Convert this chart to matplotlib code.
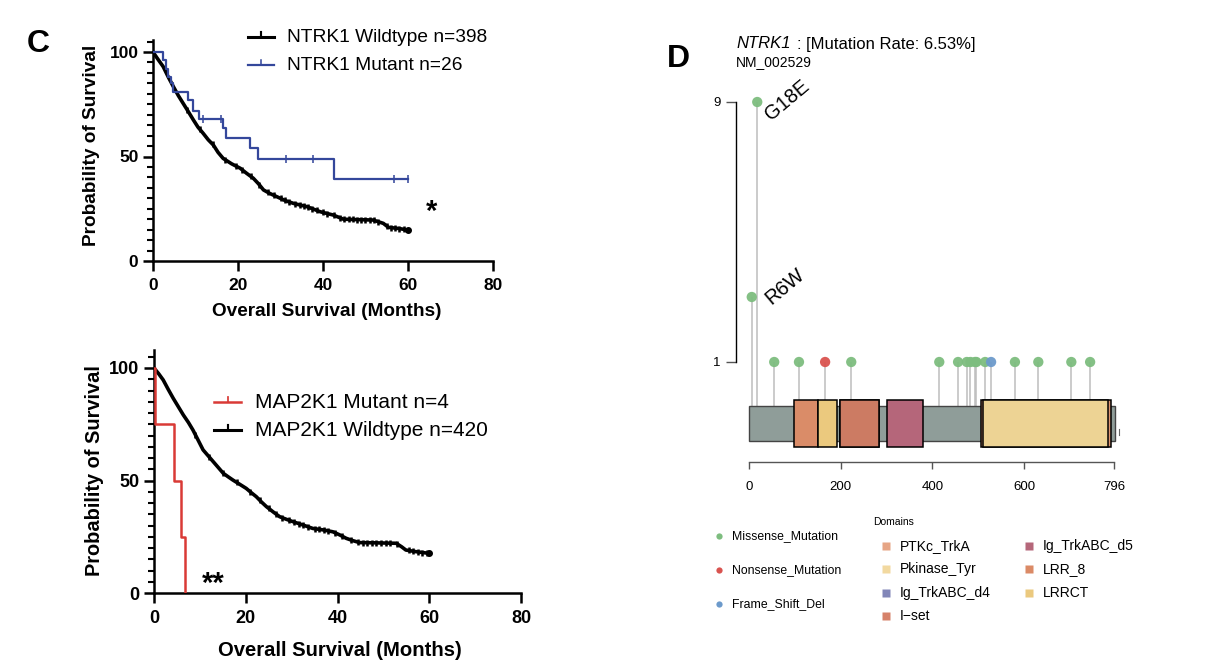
import numpy as np
import matplotlib
matplotlib.use("Agg")
import matplotlib.pyplot as plt
from matplotlib.patches import Rectangle
from matplotlib.ticker import MultipleLocator

plt.rcParams['font.family'] = ['Liberation Sans', 'DejaVu Sans']

W, H = 1206, 662

# ---------------------------------------------------------------------------
# DATA - panel C (Kaplan-Meier curves, months vs survival %)

ntrk_wt_t = [0, 1, 2.4, 3.6, 4.8, 6, 7.1, 8.3, 9.5, 10.6, 11.8, 13, 14.2, 15.3,
             16.5, 18.5, 20.5, 22, 23.6, 24.8, 26, 27.5, 29.1, 31, 33, 34.6,
             36.2, 37.8, 39.3, 40.8, 42.4, 43.6, 44.8, 48, 51.8, 53, 54.2,
             55.4, 58, 60]
ntrk_wt_s = [100, 97, 93, 88, 83.4, 79, 75.4, 71.5, 67.5, 64, 61.1, 58, 55.5, 52,
             49.1, 46.5, 44.4, 42, 39.6, 37, 34, 32.3, 30.8, 29, 27.6, 26.8,
             26, 24.8, 23.6, 22.8, 22, 21, 20, 19.8, 19.6, 18.8, 18,
             16.1, 15.5, 14.8]
ntrk_wt_cens = [8, 11, 14, 17, 19.5, 21, 23, 25, 27, 28.5, 30, 31, 32, 33.5,
                34.5, 35.5, 36.5, 37.5, 38.5, 40, 41, 42.5, 44, 45, 46, 47, 48,
                49, 50, 51, 52, 53, 55, 56, 57, 58, 59]

ntrk_mut_t = [0, 2.3, 3.0, 3.6, 4.2, 4.6, 8.2, 9.4, 10.9, 16.5, 17.2, 22.9,
              24.8, 42.7, 60]
ntrk_mut_s = [100, 96, 92, 88, 85, 81, 77, 72, 68, 63.5, 59, 54, 49, 39, 39]
ntrk_mut_cens = [11.8, 16, 31.2, 37.7, 56.7, 60]

map_wt_t = [0, 1, 2, 3.1, 4.2, 5.3, 6.4, 7.5, 8.5, 9.6, 10.7, 11.8, 12.9, 14,
            15.1, 16.2, 17.2, 18.7, 20.1, 21.2, 22.3, 23.4, 24.5, 26, 27.4,
            28.8, 30.3, 32.5, 34.6, 37, 39, 40.5, 41.9, 43.3, 44.8, 48, 52.8,
            54, 54.9, 57, 60]
map_wt_s = [100, 97.5, 94.7, 90.5, 86.5, 82.8, 79.1, 75.8, 72.4, 68, 63.6, 61,
            58.4, 55.8, 53.2, 51.6, 50.2, 48.3, 46.5, 44.6, 42.8, 40.5, 38.4,
            36, 33.9, 32.8, 31.7, 30.2, 28.7, 28, 27.2, 25.8, 24.3, 23.3, 22.4,
            22.3, 22.1, 20.5, 19.1, 18.4, 17.6]
map_wt_cens = [9, 12, 15, 18, 21, 23, 25, 26.5, 28, 29.5, 30.5, 31.5, 32.5,
               33.5, 35, 36, 37, 38, 39.5, 41, 43, 44.5, 45.5, 46.5, 47.5, 48.5,
               49.5, 50.5, 51.5, 53, 55.5, 56.5, 57.5, 58.5, 59.5]

map_mut_t = [0, 0.3, 4.4, 5.8, 6.7]
map_mut_s = [100, 75, 50, 25, 0]

# ---------------------------------------------------------------------------
# DATA - panel D (NTRK1 lollipop)

prot_len = 796
mut_pos = [6, 18, 55, 109, 166, 223, 415, 456, 475, 483, 493, 496, 515, 528,
           580, 631, 703, 744]
mut_count = [3, 9, 1, 1, 1, 1, 1, 1, 1, 1, 1, 1, 1, 1, 1, 1, 1, 1]
mut_type = ['Missense_Mutation'] * 4 + ['Nonsense_Mutation'] + \
           ['Missense_Mutation'] * 8 + ['Frame_Shift_Del'] + \
           ['Missense_Mutation'] * 4
mut_label = {6: 'R6W', 18: 'G18E'}

dom_name = ['Ig_TrkABC_d4', 'LRR_8', 'LRRCT', 'I-set', 'Ig_TrkABC_d5',
            'PTKc_TrkA', 'Pkinase_Tyr']
dom_start = [198, 99, 150, 198, 300, 505, 511]
dom_end = [284, 150, 192, 284, 380, 790, 782]

mut_colors = {'Missense_Mutation': '#7dbd7f', 'Nonsense_Mutation': '#d9534f',
              'Frame_Shift_Del': '#6c9acb'}
dom_colors = {'PTKc_TrkA': '#dd9470', 'Pkinase_Tyr': '#edd394',
              'Ig_TrkABC_d4': '#7d82b5', 'I-set': '#cc7b63',
              'Ig_TrkABC_d5': '#b5667a', 'LRR_8': '#da8c68', 'LRRCT': '#ebc97e'}
legend_dom_colors = {'PTKc_TrkA': '#e6a585', 'Pkinase_Tyr': '#f2d9a0',
                     'Ig_TrkABC_d4': '#8286b8', 'I-set': '#d6826a',
                     'Ig_TrkABC_d5': '#b5677a', 'LRR_8': '#db8a66',
                     'LRRCT': '#ebc97e'}

# ---------------------------------------------------------------------------

fig = plt.figure(figsize=(W / 100, H / 100), dpi=100)


def px_axes(l, t, r, b):
    return fig.add_axes([l / W, 1 - b / H, (r - l) / W, (b - t) / H])


# overlay for free text (pixel coordinates)
ov = px_axes(0, 0, W, H)
ov.set_xlim(0, W); ov.set_ylim(H, 0); ov.axis('off')


def km(ax, t, s, cens, color, lw, ms, steps=True):
    # big groups have many tiny steps -> looks like a smooth line
    if steps:
        ax.step(t, s, where='post', color=color, lw=lw, zorder=3)
    else:
        ax.plot(t, s, color=color, lw=lw, zorder=3)
    if len(cens):
        cs = np.interp(cens, t, s) if not steps else \
            np.array(s)[np.searchsorted(t, cens, side='right') - 1]
        ax.plot(cens, cs, ls='none', marker='|', color=color,
                ms=ms, mew=lw * 0.7, zorder=3)


def style_km(ax, ytop, fs):
    ax.set_xlim(0, 80); ax.set_ylim(0, ytop)
    for side in ['top', 'right']:
        ax.spines[side].set_visible(False)
    for side in ['left', 'bottom']:
        ax.spines[side].set_linewidth(1.8)
    ax.set_xticks([0, 20, 40, 60, 80])
    ax.set_yticks([0, 50, 100])
    ax.yaxis.set_minor_locator(MultipleLocator(5))
    ax.tick_params(which='major', width=1.8, length=7, labelsize=fs)
    ax.tick_params(axis='x', pad=5.5)
    ax.tick_params(which='minor', width=1.5, length=4.5)
    for lab in ax.get_xticklabels() + ax.get_yticklabels():
        lab.set_fontweight('bold')
    ax.patch.set_alpha(0)


# top KM (NTRK1)
ax1 = px_axes(153, 40, 493, 261)
km(ax1, ntrk_wt_t, ntrk_wt_s, ntrk_wt_cens, 'black', 2.6, 5, steps=False)
ax1.plot(ntrk_wt_t[-1], ntrk_wt_s[-1], 'o', color='black', ms=4)
km(ax1, ntrk_mut_t, ntrk_mut_s, ntrk_mut_cens, '#34479b', 1.6, 6)
style_km(ax1, (261 - 40) / 2.09, 12.5)

# bottom KM (MAP2K1)
ax2 = px_axes(154, 350, 521, 593)
km(ax2, map_wt_t, map_wt_s, map_wt_cens, 'black', 2.6, 5, steps=False)
ax2.plot(map_wt_t[-1], map_wt_s[-1], 'o', color='black', ms=4)
km(ax2, map_mut_t, map_mut_s, [], '#d93a36', 1.8, 6)
style_km(ax2, (593 - 350) / 2.25, 13)

# labels for panel C
ov.text(92, 145, 'Probability of Survival', rotation=90, ha='center',
        va='center', fontsize=13.7, fontweight='bold')
ov.text(94, 471, 'Probability of Survival', rotation=90, ha='center',
        va='center', fontsize=14.4, fontweight='bold')
ov.text(327, 312, 'Overall Survival (Months)', ha='center', va='center',
        fontsize=13.7, fontweight='bold')
ov.text(340, 651, 'Overall Survival (Months)', ha='center', va='center',
        fontsize=14.6, fontweight='bold')

# KM legends
km_legend = [(248, 274, 37, 287, 'black', 2.2, 'NTRK1 Wildtype n=398', 13.8),
             (248, 274, 65, 287, '#34479b', 1.6, 'NTRK1 Mutant n=26', 13.8),
             (214, 241, 402, 255, '#d93a36', 1.8, 'MAP2K1 Mutant n=4', 15),
             (214, 241, 430, 255, 'black', 2.2, 'MAP2K1 Wildtype n=420', 15)]
for x0, x1, y, xt, c, lw, txt, fs in km_legend:
    ov.plot([x0, x1], [y, y], color=c, lw=lw)
    ov.plot([(x0 + x1) / 2] * 2, [y - 5, y], color=c, lw=lw * 0.7)
    ov.text(xt, y, txt, ha='left', va='center', fontsize=fs)

ov.text(432, 212, '*', ha='center', va='center', fontsize=21, fontweight='bold')
ov.text(213, 584, '**', ha='center', va='center', fontsize=21,
        fontweight='bold')

ov.text(38, 44, 'C', ha='center', va='center', fontsize=23, fontweight='bold')
ov.text(678, 59, 'D', ha='center', va='center', fontsize=23, fontweight='bold')

# ---------------------------------------------------------------------------
# panel D lollipop


def cy(ypx):
    # pixel row -> count axis value
    return 1 - (ypx - 362) / 32.5


axD = px_axes(700, 80, 1150, 500)
axD.set_xlim((700 - 749) / 0.4585, (1150 - 749) / 0.4585)
axD.set_ylim(cy(500), cy(80))
axD.patch.set_alpha(0)
axD.spines['top'].set_visible(False)
axD.spines['right'].set_visible(False)
axD.spines['left'].set_position(('data', (736 - 749) / 0.4585))
axD.spines['left'].set_bounds(1, 9)
axD.spines['left'].set_linewidth(1.0)
axD.spines['bottom'].set_position(('data', cy(462)))
axD.spines['bottom'].set_bounds(0, prot_len)
axD.spines['bottom'].set_color('#555555')
axD.spines['bottom'].set_linewidth(1.0)
axD.set_yticks([1, 9])
axD.set_xticks([0, 200, 400, 600, prot_len])
axD.tick_params(axis='y', length=7, width=1.0, labelsize=9.5, pad=4,
                color='#555555')
axD.tick_params(axis='x', length=5, width=1.0, color='#555555', labelsize=9.5,
                pad=9)

bar_top, bar_bot = cy(406), cy(441)
dom_top, dom_bot = cy(400), cy(447)

axD.vlines(mut_pos, bar_top, mut_count, color='#bdbdbd', lw=1.1, zorder=1)
axD.add_patch(Rectangle((0, bar_bot), prot_len + 2, bar_top - bar_bot,
                        facecolor='#8f9d99', edgecolor='#444444', lw=1.0,
                        zorder=2))
for name, s, e in zip(dom_name, dom_start, dom_end):
    axD.add_patch(Rectangle((s, dom_bot), e - s, dom_top - dom_bot,
                            facecolor=dom_colors[name], edgecolor='black',
                            lw=1.1, zorder=3))
axD.plot([807, 807], [cy(429), cy(435)], color='#666666', lw=0.8)

axD.scatter(mut_pos, mut_count, s=55, c=[mut_colors[t] for t in mut_type],
            edgecolors='none', alpha=0.95, zorder=4)
label_offset = {'G18E': (10, -13.7), 'R6W': (14.4, -5.8)}
for pos, cnt in zip(mut_pos, mut_count):
    if pos in mut_label:
        lab = mut_label[pos]
        axD.annotate(lab, (pos, cnt), xytext=label_offset[lab],
                     textcoords='offset points', rotation=40,
                     rotation_mode='anchor', ha='left', va='baseline',
                     fontsize=14.5)

# title of panel D
ov.text(736, 44, 'NTRK1', ha='left', va='center', fontsize=12, style='italic')
ov.text(797, 44, ': [Mutation Rate: 6.53%]', ha='left', va='center',
        fontsize=12)
ov.text(736, 62, 'NM_002529', ha='left', va='center', fontsize=10)

# panel D legends
for (name, y) in zip(['Missense_Mutation', 'Nonsense_Mutation',
                      'Frame_Shift_Del'], [536, 570, 604]):
    ov.plot(719, y, 'o', color=mut_colors[name], ms=4.5, mec='none')
    ov.text(732, y, name, ha='left', va='center', fontsize=8.8)

ov.text(873, 522, 'Domains', ha='left', va='center', fontsize=7.5)
col1 = ['PTKc_TrkA', 'Pkinase_Tyr', 'Ig_TrkABC_d4', 'I-set']
col2 = ['Ig_TrkABC_d5', 'LRR_8', 'LRRCT']
rows = [546, 569, 593, 616]
for names, xs, xt in [(col1, 886, 900), (col2, 1029, 1043)]:
    for name, y in zip(names, rows):
        ov.plot(xs, y, 's', color=legend_dom_colors[name], ms=5.5, mec='none')
        ov.text(xt, y, name.replace('-', '\u2212'), ha='left', va='center',
                fontsize=10)

plt.savefig("out.png", dpi=100)
